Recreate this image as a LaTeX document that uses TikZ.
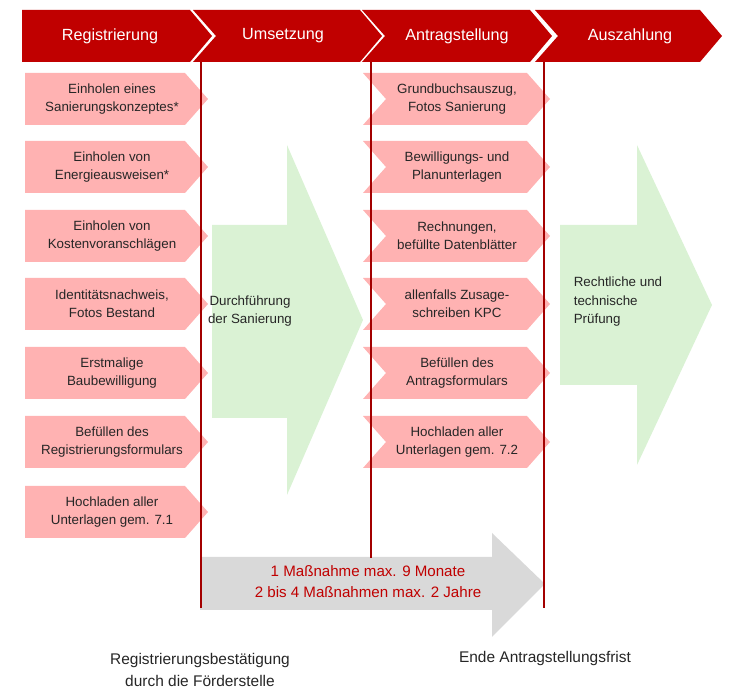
\documentclass[tikz,border=0pt]{standalone}
\usepackage{fontspec}
\setmainfont{Liberation Sans}
\usetikzlibrary{positioning}
\definecolor{hdred}{RGB}{192,0,0}
\definecolor{stepred}{RGB}{255,178,178}
\definecolor{flowgreen}{RGB}{218,242,212}
\definecolor{spangray}{RGB}{217,217,217}
\tikzstyle{head} = [fill=hdred, draw=none]
\tikzstyle{stepbox} = [fill=stepred, draw=none]
\tikzstyle{boxtext} = [align=center, font=\fontsize{7.6}{10.5}\selectfont, text=black!85]
\tikzstyle{htext} = [font=\fontsize{9.2}{11}\selectfont, text=white]
\tikzstyle{marker} = [draw=hdred!85!black, line width=0.6pt]
\begin{document}
\begin{tikzpicture}[x=0.02cm, y=-0.02cm]
	\useasboundingbox (0,0) rectangle (745,695);
	% header chevrons
	\fill [head] (22,10) -- (190,10) -- (212,36) -- (190,62) -- (22,62) -- cycle;
	\fill [head] (193,10) -- (360,10) -- (382,36) -- (360,62) -- (193,62) -- (216,36) -- cycle;
	\fill [head] (362,10) -- (530,10) -- (552,36) -- (530,62) -- (362,62) -- (385,36) -- cycle;
	\fill [head] (535,10) -- (700,10) -- (722,36) -- (700,62) -- (535,62) -- (558,36) -- cycle;
	\node (reg) [htext] at (110,36) {Registrierung};
	\node (ums) [htext] at (283,36) {Umsetzung};
	\node (ant) [htext] at (457,36) {Antragstellung};
	\node (aus) [htext] at (630,36) {Auszahlung};
	% green and gray arrows
	\fill [flowgreen] (212,225) -- (287,225) -- (287,145) -- (363,320) -- (287,495) -- (287,418) -- (212,418) -- cycle;
	\fill [flowgreen] (560,225) -- (637,225) -- (637,145) -- (712,305) -- (637,465) -- (637,385) -- (560,385) -- cycle;
	\fill [spangray] (200,557) -- (492,557) -- (492,533) -- (545,584) -- (492,637) -- (492,610) -- (200,610) -- cycle;
	\node (durch) [boxtext] at (250,311) {Durchführung\\der Sanierung};
	\node (pruef) [boxtext, align=left] at (618,302) {Rechtliche und\\technische\\Prüfung};
	\node (frist) [boxtext, text=hdred, font=\fontsize{8.6}{12}\selectfont] at (368,582) {1 Maßnahme max. 9 Monate\\2 bis 4 Maßnahmen max. 2 Jahre};
	% left steps
	\foreach \y/\t [count=\i] in {99/{Einholen eines\\Sanierungskonzeptes*}, 167/{Einholen von\\Energieausweisen*}, 236/{Einholen von\\Kostenvoranschlägen}, 304/{Identitätsnachweis,\\Fotos Bestand}, 373/{Erstmalige\\Baubewilligung}, 442/{Befüllen des\\Registrierungsformulars}, 512/{Hochladen aller\\Unterlagen gem. 7.1}} {
		\fill [stepbox] (25,\y-26) -- (185,\y-26) -- (208,\y) -- (185,\y+26) -- (25,\y+26) -- cycle;
		\node (reg\i) [boxtext] at (112,\y) {\t};
	}
	% right steps
	\foreach \y/\t [count=\i] in {99/{Grundbuchsauszug,\\Fotos Sanierung}, 167/{Bewilligungs- und\\Planunterlagen}, 236/{Rechnungen,\\befüllte Datenblätter}, 304/{allenfalls Zusage-\\schreiben KPC}, 373/{Befüllen des\\Antragsformulars}, 442/{Hochladen aller\\Unterlagen gem. 7.2}} {
		\fill [stepbox] (363,\y-26) -- (527,\y-26) -- (550,\y) -- (527,\y+26) -- (363,\y+26) -- (386,\y) -- cycle;
		\node (ant\i) [boxtext] at (457,\y) {\t};
	}
	% phase markers
	\coordinate (m1a) at (201,62); \coordinate (m1b) at (201,608);
	\coordinate (m2a) at (371,62); \coordinate (m2b) at (371,558);
	\coordinate (m3a) at (544,62); \coordinate (m3b) at (544,608);
	\draw [marker] (m1a) -- (m1b);
	\draw [marker] (m2a) -- (m2b);
	\draw [marker] (m3a) -- (m3b);
	\node (bestaet) [boxtext, font=\fontsize{8.8}{12}\selectfont] at (200,670) {Registrierungsbestätigung\\durch die Förderstelle};
	\node (ende) [boxtext, font=\fontsize{8.8}{12}\selectfont] at (545,659) {Ende Antragstellungsfrist};
\end{tikzpicture}
\end{document}
